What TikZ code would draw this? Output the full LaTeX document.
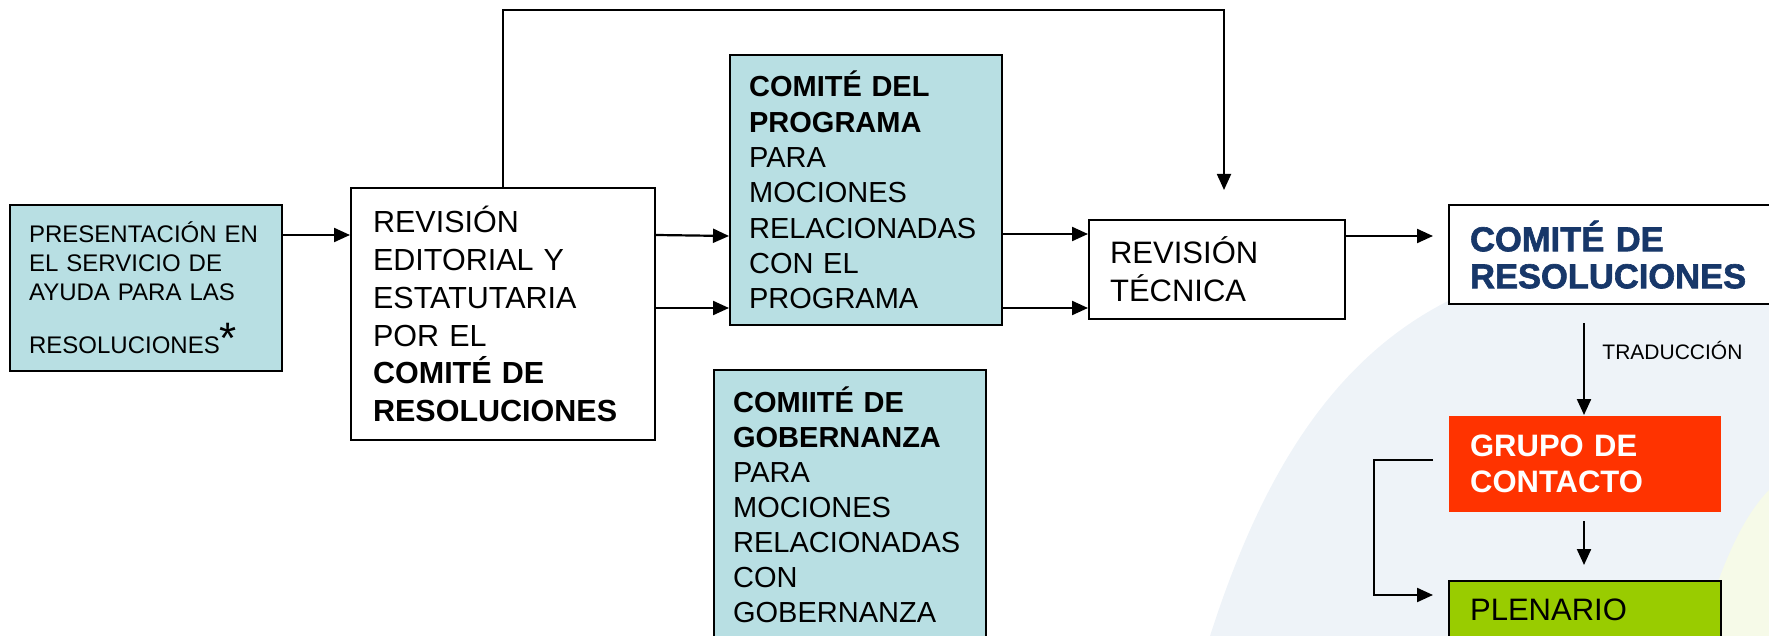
\documentclass[tikz,border=0pt]{standalone}
\usepackage{fontspec}
\setmainfont{Liberation Sans}
\newfontfamily\heavyfont{Liberation Sans Bold}[FakeBold=1.8]
\usetikzlibrary{arrows.meta,calc}
\definecolor{boxteal}{RGB}{184,223,227}
\definecolor{navy}{RGB}{23,55,105}
\definecolor{redbox}{RGB}{255,51,0}
\definecolor{greenbox}{RGB}{153,204,0}
\definecolor{wmblue}{RGB}{238,243,248}
\definecolor{wmgreen}{RGB}{246,250,232}
\tikzset{
  flowbox/.style={draw=black, line width=2.2pt, inner ysep=0pt, align=left, anchor=north west},
  arr/.style={line width=2.2pt, -{Triangle[length=16pt,width=14pt]}},
  thinarr/.style={line width=1.8pt, -{Triangle[length=16pt,width=14pt]}},
  plainline/.style={line width=2pt}
}
\begin{document}
\begin{tikzpicture}[x=1pt,y=-1pt]
\useasboundingbox (0,0) rectangle (1769,636);
% faint watermark
\fill[wmblue] (1210,636) .. controls (1260,480) and (1330,360) .. (1450,300) -- (1769,300) -- (1769,636) -- cycle;
\fill[wmgreen] (1700,636) .. controls (1720,570) and (1740,520) .. (1769,490) -- (1769,636) -- cycle;
\begin{scope}
\clip (0,0) rectangle (1769,636);
% boxes
\node[flowbox, fill=boxteal, inner xsep=19pt, text width=234pt, minimum height=166pt,
  font=\fontsize{24}{28.8}\selectfont] (pres) at (9,204)
  {PRESENTACIÓN EN\\EL SERVICIO DE\\AYUDA PARA LAS\\[22pt]RESOLUCIONES{\fontsize{44}{44}\selectfont*}};
\node[flowbox, fill=white, inner xsep=22pt, text width=260pt, minimum height=252pt,
  font=\fontsize{30.5}{37.8}\selectfont] (edit) at (350,187)
  {REVISIÓN\\EDITORIAL Y\\ESTATUTARIA\\POR EL\\\textbf{COMITÉ DE}\\\textbf{RESOLUCIONES}};
\node[flowbox, fill=boxteal, inner xsep=19pt, text width=234pt, minimum height=270pt,
  font=\fontsize{29}{35.3}\selectfont] (prog) at (729,54)
  {\textbf{COMITÉ DEL}\\\textbf{PROGRAMA}\\PARA\\MOCIONES\\RELACIONADAS\\CON EL\\PROGRAMA};
\node[flowbox, fill=boxteal, inner xsep=19pt, text width=234pt, minimum height=269pt,
  font=\fontsize{29}{35}\selectfont] (gob) at (713,369)
  {\textbf{COMIITÉ DE}\\\textbf{GOBERNANZA}\\PARA\\MOCIONES\\RELACIONADAS\\CON\\GOBERNANZA};
\node[flowbox, fill=white, inner xsep=21pt, text width=214pt, minimum height=99pt,
  font=\fontsize{31}{38}\selectfont] (tec) at (1088,219)
  {REVISIÓN\\TÉCNICA};
\node[flowbox, fill=white, inner xsep=21pt, text width=285pt, minimum height=99pt,
  font=\heavyfont\fontsize{34.5}{37}\selectfont, text=navy] (res) at (1448,204)
  {COMITÉ DE\\RESOLUCIONES};
\node[flowbox, draw=none, fill=redbox, inner xsep=21pt, text width=230pt, minimum height=96pt,
  font=\bfseries\fontsize{31}{36}\selectfont, text=white] (grupo) at (1448,415)
  {GRUPO DE\\CONTACTO};
\node[flowbox, fill=greenbox, inner xsep=21pt, text width=230pt, minimum height=58pt,
  font=\fontsize{31}{37}\selectfont] (plen) at (1448,580)
  {PLENARIO};
\end{scope}
% connectors
\draw[arr] ([yshift=-31pt]pres.north east) -- ([yshift=-31pt]pres.north east -| edit.west);
\draw[arr] ([yshift=-48pt]edit.north east) -- ([yshift=-182pt]prog.north west);
\draw[arr] ([yshift=-121pt]edit.north east) -- ([yshift=-254pt]prog.north west);
\draw[arr] ([yshift=-180pt]prog.north east) -- ([yshift=-180pt]prog.north east -| tec.west);
\draw[arr] ([yshift=-254pt]prog.north east) -- ([yshift=-254pt]prog.north east -| tec.west);
\coordinate (loopend) at (1224,190);
\draw[thinarr] (edit.north) -- (edit.north |- 0,10) -- (loopend |- 0,10) -- (loopend);
\coordinate (resin) at ([xshift=-15pt,yshift=-32pt]res.north west);
\draw[arr] (tec.east |- resin) -- (resin);
\coordinate (trtop) at (1584,323);
\draw[arr] (trtop) -- (trtop |- grupo.north)
  node[pos=0.3, right=14pt, font=\fontsize{21}{21}\selectfont, text=black] (trad) {TRADUCCIÓN};
\coordinate (gptop) at (1584,521);
\draw[arr] (gptop) -- (1584,565);
\coordinate (brk) at (1433,460);
\coordinate (brkend) at (1433,595);
\draw[arr] (brk) -- (1374,460) -- (1374,595) -- (brkend);
\end{tikzpicture}
\end{document}
